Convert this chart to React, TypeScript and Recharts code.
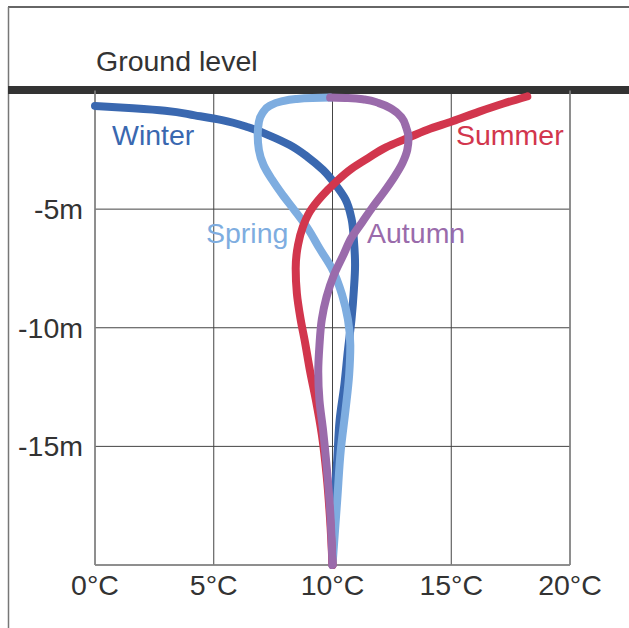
import { LineChart, Line, XAxis, YAxis, CartesianGrid, ReferenceLine } from 'recharts';

// axis ticks
const tempTicks = [0, 5, 10, 15, 20];
const depthTicks = [0, -5, -10, -15, -20];
const depthLabelTicks = [-5, -10, -15];

// values: depth (m) and temperature (°C)
const winterDepth = [-0.65, -0.75, -0.85, -1.05, -1.25, -1.55, -1.9, -2.3, -2.8, -3.35, -4.0, -4.6, -5.4, -6.3, -7.35, -8.4, -9.65, -10.95, -12.4, -13.9, -15.55, -17.7, -20];
const winterTemp = [0, 1.6, 2.95, 4.2, 5.35, 6.45, 7.35, 8.2, 8.95, 9.6, 10.15, 10.55, 10.8, 10.9, 10.95, 10.9, 10.8, 10.65, 10.5, 10.3, 10.2, 10.05, 10.0];

const springDepth = [-0.3, -0.32, -0.36, -0.46, -0.65, -0.95, -1.33, -1.88, -2.5, -3.15, -3.75, -4.4, -5.05, -5.8, -6.65, -7.55, -8.6, -9.65, -10.75, -12.0, -13.45, -15.15, -17.25, -20];
const springTemp = [9.9, 9.15, 8.45, 7.85, 7.35, 7.05, 6.9, 6.85, 6.9, 7.1, 7.45, 7.9, 8.4, 8.95, 9.45, 10.0, 10.4, 10.65, 10.75, 10.7, 10.55, 10.35, 10.2, 10.0];

const summerDepth = [-0.25, -0.55, -0.9, -1.3, -1.65, -2.05, -2.4, -2.85, -3.3, -3.85, -4.45, -5.1, -5.75, -6.5, -7.5, -8.55, -9.6, -10.65, -11.8, -13.05, -14.5, -16.2, -18.1, -20];
const summerTemp = [18.2, 17.2, 16.15, 15.05, 14.0, 13.05, 12.25, 11.5, 10.8, 10.15, 9.55, 9.05, 8.75, 8.55, 8.45, 8.5, 8.65, 8.85, 9.05, 9.3, 9.55, 9.75, 9.9, 10.0];

const autumnDepth = [-0.3, -0.32, -0.38, -0.53, -0.78, -1.12, -1.55, -2.0, -2.5, -3.05, -3.65, -4.3, -4.9, -5.55, -6.2, -6.95, -7.8, -8.7, -9.65, -10.75, -11.85, -13.05, -14.3, -15.8, -17.7, -20];
const autumnTemp = [9.9, 10.65, 11.35, 11.95, 12.5, 12.9, 13.1, 13.2, 13.15, 12.95, 12.6, 12.15, 11.7, 11.25, 10.8, 10.45, 10.05, 9.75, 9.55, 9.45, 9.4, 9.45, 9.6, 9.75, 9.9, 10.0];

const toPoints = (depth: number[], temp: number[]) => depth.map((d, i) => ({ d, t: temp[i] }));

const winter = { name: 'Winter', color: '#3a68b0', data: toPoints(winterDepth, winterTemp) };
const spring = { name: 'Spring', color: '#7eade0', data: toPoints(springDepth, springTemp) };
const summer = { name: 'Summer', color: '#d2364d', data: toPoints(summerDepth, summerTemp) };
const autumn = { name: 'Autumn', color: '#9a6bab', data: toPoints(autumnDepth, autumnTemp) };

// drawing order (bottom to top)
const series = [winter, spring, summer, autumn];

const FONT = 28.5;
const TEXT = '#333';

export default function App() {
  return (
    <div style={{ position: 'absolute', left: 0, top: 0 }}>
      <LineChart
        width={629}
        height={628}
        layout="vertical"
        margin={{ top: 90.5, right: 59, bottom: 0, left: 8 }}
        style={{ fontFamily: '"Liberation Sans", Arial, sans-serif' }}
      >
        <CartesianGrid stroke="#444" strokeWidth={1} verticalValues={tempTicks} horizontalValues={depthTicks} />
        <XAxis
          type="number"
          dataKey="t"
          domain={[0, 20]}
          ticks={tempTicks}
          tickFormatter={(v) => `${v}°C`}
          axisLine={false}
          tickLine={false}
          tickMargin={4}
          height={63}
          tick={{ fill: TEXT, fontSize: FONT }}
          interval={0}
        />
        <YAxis
          type="number"
          dataKey="d"
          domain={[-20, 0]}
          reversed
          ticks={depthTicks}
          tickFormatter={(v) => (depthLabelTicks.includes(v) ? `${v}m` : '')}
          axisLine={false}
          tickLine={false}
          tickMargin={6}
          width={87}
          tick={{ fill: TEXT, fontSize: FONT }}
          interval={0}
        />
        <ReferenceLine x={0} stroke="#888" strokeWidth={1.5} />
        <ReferenceLine x={20} stroke="#888" strokeWidth={1.5} />
        <ReferenceLine y={-20} stroke="#888" strokeWidth={1.5} />
        {series.map((s) => (
          <Line
            key={s.name}
            name={s.name}
            data={s.data}
            dataKey="t"
            type="monotone"
            stroke={s.color}
            strokeWidth={8}
            strokeLinecap="round"
            strokeLinejoin="round"
            dot={false}
            activeDot={false}
            isAnimationActive={false}
          />
        ))}
        <line x1={8} y1={7} x2={629} y2={7} stroke="#333" strokeWidth={1.5} />
        <line x1={8.5} y1={7} x2={8.5} y2={628} stroke="#777" strokeWidth={1.5} />
        <rect x={8} y={86} width={621} height={8} fill="#333" />
        <text x={96} y={71} fill={TEXT} fontSize={FONT}>Ground level</text>
        <text x={112} y={145} fill={winter.color} fontSize={FONT}>Winter</text>
        <text x={206} y={243} fill={spring.color} fontSize={FONT}>Spring</text>
        <text x={456} y={145} fill={summer.color} fontSize={FONT}>Summer</text>
        <text x={367} y={243} fill={autumn.color} fontSize={FONT}>Autumn</text>
      </LineChart>
    </div>
  );
}
